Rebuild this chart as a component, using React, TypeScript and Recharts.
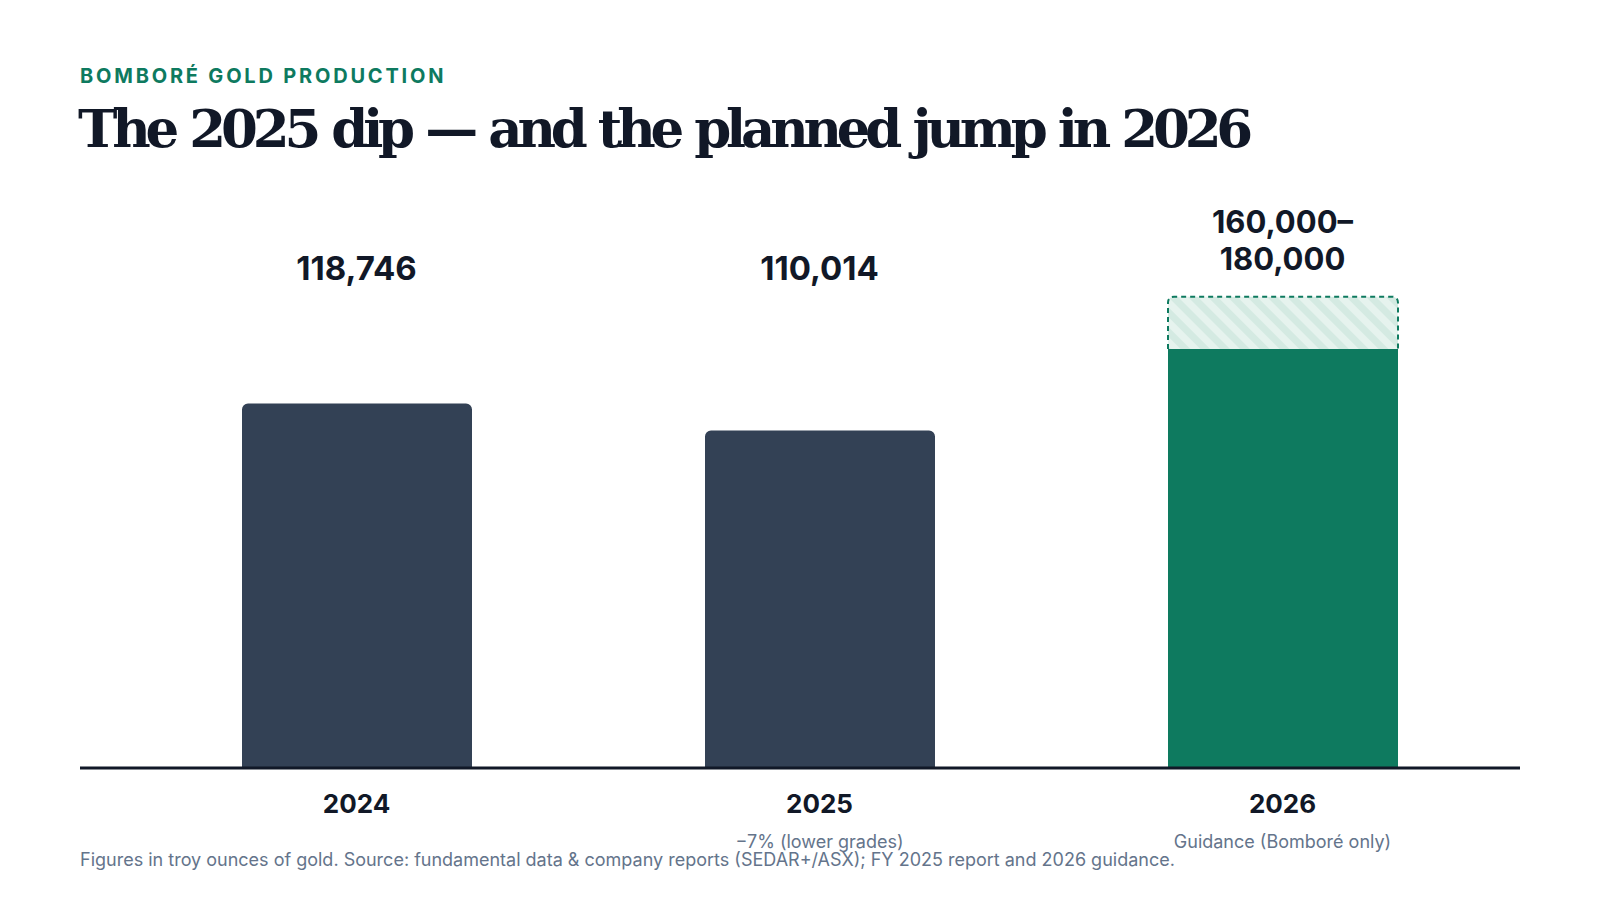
import { BarChart, Bar, XAxis, YAxis } from "recharts";

// Bomboré gold production, troy ounces
const years = ["2024", "2025", "2026"];
const produced = [118746, 110014, null];
const guidanceLow = [null, null, 160000];
const guidanceHigh = [null, null, 180000];
const valueLabels = [["118,746"], ["110,014"], ["160,000–", "180,000"]];
const notes = ["", "−7% (lower grades)", "Guidance (Bomboré only)"];

// the reported years and the guidance column are drawn on their own scales
const producedDomain = [0, 191600];
const guidanceDomain = [0, 224600];

const data = years.map((year, i) => ({
  year,
  produced: produced[i],
  low: guidanceLow[i],
  range: guidanceHigh[i] != null && guidanceLow[i] != null ? guidanceHigh[i] - guidanceLow[i] : null,
}));

const GREEN = "#0e7a5f";
const SLATE = "#334155";
const INK = "#111827";
const MUTED = "#64748b";
const SANS = "Inter, 'Noto Sans', sans-serif";

const ValueTick = (props: any) => {
  const { x, y, index } = props;
  const lines = valueLabels[index] || [];
  const firstBaseline = lines.length > 1 ? y + 53 : y + 100;
  return (
    <g>
      {lines.map((line, j) => (
        <text
          key={j}
          x={x}
          y={firstBaseline + j * 37}
          textAnchor="middle"
          fontFamily={SANS}
          fontSize={lines.length > 1 ? 31 : 33}
          fontWeight={700}
          fill={INK}
        >
          {line}
        </text>
      ))}
    </g>
  );
};

const YearTick = (props: any) => {
  const { x, y, payload, index } = props;
  return (
    <g>
      <text x={x} y={y + 45} textAnchor="middle" fontFamily={SANS} fontSize={26} fontWeight={700} fill={INK}>
        {payload.value}
      </text>
      {notes[index] ? (
        <text x={x} y={y + 80} textAnchor="middle" fontFamily={SANS} fontSize={18} fill={MUTED}>
          {notes[index]}
        </text>
      ) : null}
    </g>
  );
};

const RangeShape = (props: any) => {
  const { x, y, width, height } = props;
  if (!height || height <= 0) return null;
  const r = 6;
  const outline = `M${x},${y + height} L${x},${y + r} Q${x},${y} ${x + r},${y} L${x + width - r},${y} Q${x + width},${y} ${x + width},${y + r} L${x + width},${y + height}`;
  return (
    <g>
      <path d={outline + " Z"} fill="url(#guidanceHatch)" />
      <path d={outline} fill="none" stroke={GREEN} strokeWidth={2} strokeDasharray="5 4" />
    </g>
  );
};

export default function App() {
  return (
    <div style={{ position: "absolute", left: 0, top: 0, width: 1600, height: 900, background: "#fff" }}>
      <BarChart
        width={1600}
        height={900}
        data={data}
        margin={{ top: 60, right: 80, bottom: 32, left: 80 }}
        barSize={230}
      >
        <defs>
          <pattern id="guidanceHatch" patternUnits="userSpaceOnUse" width={14} height={14} patternTransform="rotate(-45)">
            <rect width={14} height={14} fill="#e6f3ee" />
            <rect width={7} height={14} fill="#d4eae2" />
          </pattern>
        </defs>
        <XAxis
          dataKey="year"
          height={100}
          padding={{ left: 45, right: 6 }}
          tickLine={false}
          tickSize={0}
          tickMargin={0}
          axisLine={{ stroke: INK, strokeWidth: 3 }}
          tick={<YearTick />}
          interval={0}
        />
        <XAxis
          xAxisId="top"
          dataKey="year"
          orientation="top"
          height={120}
          padding={{ left: 45, right: 6 }}
          tickLine={false}
          tickSize={0}
          tickMargin={0}
          axisLine={false}
          tick={<ValueTick />}
          interval={0}
        />
        <YAxis yAxisId="h" hide domain={producedDomain} />
        <YAxis yAxisId="g" hide domain={guidanceDomain} />
        <Bar dataKey="produced" yAxisId="h" fill={SLATE} radius={[6, 6, 0, 0]} isAnimationActive={false} />
        <Bar dataKey="low" xAxisId="top" yAxisId="g" stackId="g" fill={GREEN} isAnimationActive={false} />
        <Bar dataKey="range" xAxisId="top" yAxisId="g" stackId="g" shape={<RangeShape />} isAnimationActive={false} />
      </BarChart>
      <div
        style={{
          position: "absolute",
          left: 80,
          top: 62,
          fontFamily: SANS,
          fontSize: 20,
          fontWeight: 700,
          letterSpacing: 2.8,
          color: GREEN,
          lineHeight: "28px",
        }}
      >
        BOMBORÉ GOLD PRODUCTION
      </div>
      <div
        style={{
          position: "absolute",
          left: 78,
          top: 93,
          fontFamily: "'DejaVu Serif', serif",
          fontSize: 53,
          fontWeight: 700,
          letterSpacing: -5.2,
          wordSpacing: 2,
          color: INK,
          lineHeight: "70px",
          whiteSpace: "nowrap",
        }}
      >
        The 2025 dip — and the planned jump in 2026
      </div>
      <div
        style={{
          position: "absolute",
          left: 80,
          top: 848,
          fontFamily: SANS,
          fontSize: 18,
          color: MUTED,
          lineHeight: "24px",
          whiteSpace: "nowrap",
        }}
      >
        Figures in troy ounces of gold. Source: fundamental data &amp; company reports (SEDAR+/ASX); FY 2025 report and 2026 guidance.
      </div>
    </div>
  );
}
